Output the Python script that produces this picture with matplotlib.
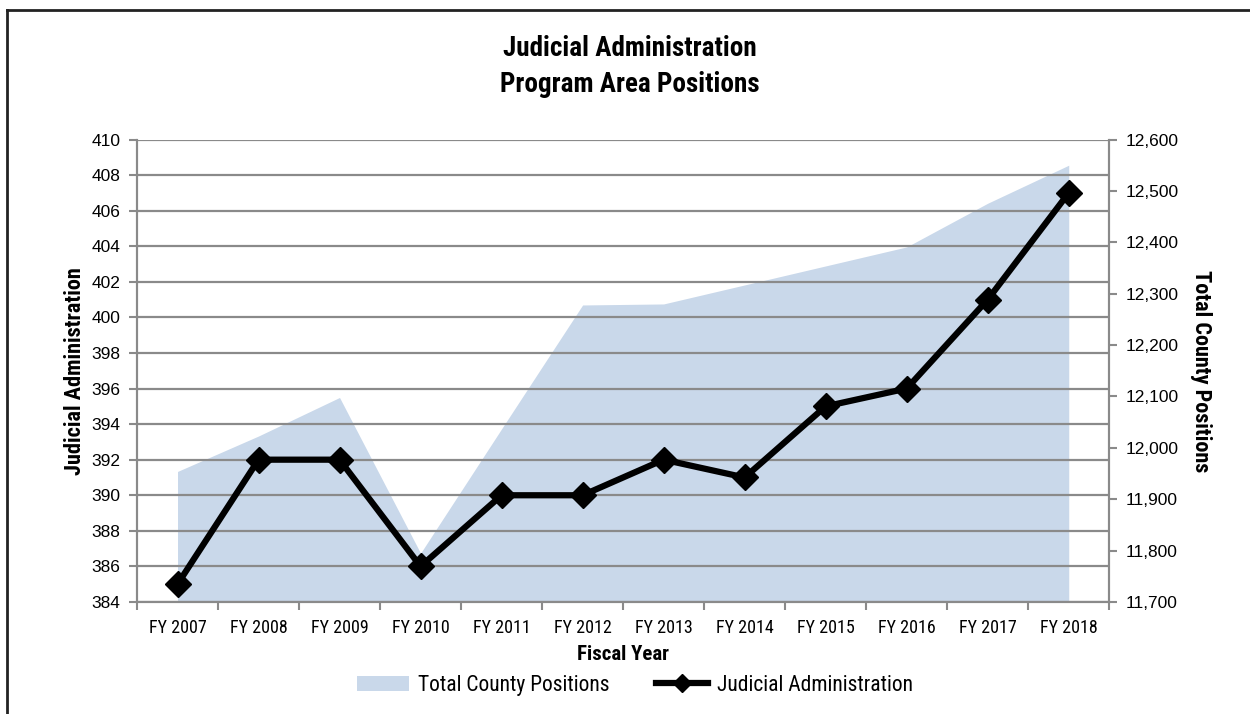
import numpy as np
import matplotlib
matplotlib.use("Agg")
import matplotlib.pyplot as plt
from matplotlib import font_manager
from matplotlib.lines import Line2D
from matplotlib.patches import Patch

# Donnees
years = ["FY 2007", "FY 2008", "FY 2009", "FY 2010", "FY 2011", "FY 2012",
         "FY 2013", "FY 2014", "FY 2015", "FY 2016", "FY 2017", "FY 2018"]
judicial = [385, 392, 392, 386, 390, 390, 392, 391, 395, 396, 401, 407]
county_total = [11954, 12023, 12098, 11795, 12037, 12278,
                12280, 12317, 12354, 12391, 12476, 12550]

left_ticks = list(range(384, 411, 2))
right_ticks = list(range(11700, 12601, 100))

# Police etroite si disponible
names = {f.name for f in font_manager.fontManager.ttflist}
narrow = "Liberation Sans"
for cand in ["Liberation Sans Narrow", "Roboto Condensed", "Open Sans Condensed", "DejaVu Sans Condensed"]:
    if cand in names:
        narrow = cand
        break
plt.rcParams['font.family'] = ['Liberation Sans', 'DejaVu Sans']

area_col = '#c9d8ea'
grid_col = '#8a8a8a'

fig = plt.figure(figsize=(12.5, 7.14), dpi=100)
ax = fig.add_axes([0.1096, 0.1569, 0.7778, 0.6477])
ax2 = ax.twinx()

x = np.arange(len(years))

# Aire : total du comte (axe de droite)
ax2.fill_between(x, 11700, county_total, color=area_col, linewidth=0, zorder=1)
ax2.set_ylim(11700, 12600)
ax2.set_yticks(right_ticks)
ax2.set_yticklabels([f"{v:,}" for v in right_ticks], fontsize=12.5)

# Ligne : administration judiciaire (axe de gauche)
ax.set_zorder(ax2.get_zorder() + 1)
ax.patch.set_visible(False)
ax.plot(x, judicial, '-', color='black', linewidth=4.5, marker='D',
        markersize=13, zorder=3)
ax.set_ylim(384, 410)
ax.set_yticks(left_ticks)
ax.tick_params(axis='y', labelsize=12.5)
ax.set_xlim(-0.5, len(years) - 0.5)

# grille horizontale
for v in left_ticks:
    ax.axhline(v, color=grid_col, linewidth=1.6, zorder=2)

ax.set_xticks(np.arange(-0.5, len(years), 1.0))
ax.set_xticklabels([])
ax.set_xticks(x, minor=True)
ax.set_xticklabels(years, minor=True, fontsize=13, family=[narrow, 'DejaVu Sans'])
ax.tick_params(axis='x', which='minor', length=0, pad=12)
ax.tick_params(axis='x', which='major', length=6, color=grid_col, width=1.5)
ax.tick_params(axis='y', length=6, color=grid_col, width=1.5, pad=6)
ax2.tick_params(axis='y', length=6, color=grid_col, width=1.5, labelsize=12.5, pad=6)
ax2.set_xlim(-0.5, len(years) - 0.5)

for a in (ax, ax2):
    a.spines['top'].set_visible(False)
    for s in ['left', 'right', 'bottom']:
        a.spines[s].set_color(grid_col)
        a.spines[s].set_linewidth(1.5)

ax.set_ylabel("Judicial Administration", fontsize=16, fontweight='bold',
              family=[narrow, 'DejaVu Sans'], labelpad=4)
ax2.set_ylabel("Total County Positions", fontsize=16, fontweight='bold',
               family=[narrow, 'DejaVu Sans'], rotation=270, labelpad=24)
ax.set_xlabel("Fiscal Year", fontsize=15, fontweight='bold',
              family=[narrow, 'DejaVu Sans'], labelpad=6)

fig.text(0.504, 0.907, "Judicial Administration\nProgram Area Positions",
         ha='center', va='center', fontsize=19.5, fontweight='bold',
         family=[narrow, 'DejaVu Sans'], linespacing=1.45)

handles = [Patch(facecolor=area_col, edgecolor='none'),
           Line2D([0], [0], color='black', linewidth=4.5, marker='D', markersize=9)]
fig.legend(handles, ["Total County Positions", "Judicial Administration"],
           loc='center', bbox_to_anchor=(0.508, 0.04), ncol=2, frameon=False,
           prop={'family': [narrow, 'DejaVu Sans'], 'size': 15.5},
           handlelength=2.4, handletextpad=0.4, columnspacing=2.2)

# cadre noir (haut et gauche)
fig.add_artist(Line2D([7 / 1250, 1], [1 - 10 / 714, 1 - 10 / 714],
                      transform=fig.transFigure, color='#222222', linewidth=2))
fig.add_artist(Line2D([7 / 1250, 7 / 1250], [0, 1 - 10 / 714],
                      transform=fig.transFigure, color='#222222', linewidth=2))

fig.savefig("out.png", dpi=100)
